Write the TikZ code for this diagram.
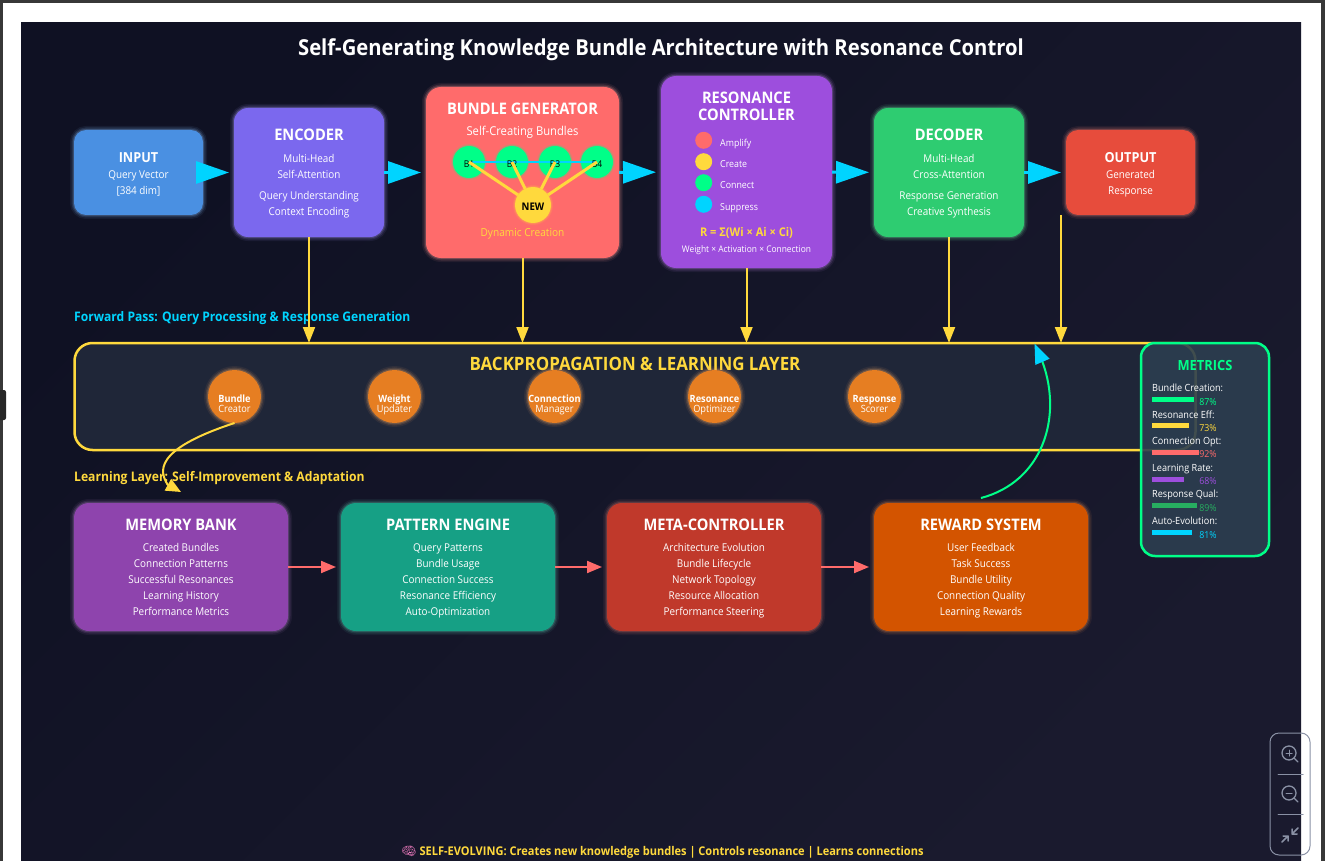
\documentclass[tikz,border=0pt]{standalone}
\usepackage{fontspec}
\setmainfont[FakeStretch=0.92]{Open Sans}
\newfontfamily\emojifont{Noto Emoji}
\usetikzlibrary{arrows.meta,shapes.geometric,calc}
\definecolor{cyanx}{HTML}{00D4FF}
\definecolor{yel}{HTML}{FFD93D}
\definecolor{grn}{HTML}{00FF88}
\definecolor{red1}{HTML}{FF6B6B}
\definecolor{pur}{HTML}{9D4EDD}
\definecolor{ora}{HTML}{E67E22}
\definecolor{ctl}{HTML}{8A91A5}
\definecolor{cinput}{HTML}{4A90E2}
\definecolor{cenc}{HTML}{7B68EE}
\definecolor{cdec}{HTML}{2ECC71}
\definecolor{cout}{HTML}{E74C3C}
\definecolor{cmem}{HTML}{8E44AD}
\definecolor{cpat}{HTML}{16A085}
\definecolor{cmeta}{HTML}{C0392B}
\definecolor{crew}{HTML}{D35400}
\definecolor{clayer}{HTML}{1F2638}
\definecolor{cmetr}{HTML}{2C3E50}
\definecolor{qgrn}{HTML}{27AE60}
\definecolor{bgA}{HTML}{0F1123}
\definecolor{bgB}{HTML}{1A1A2E}
\definecolor{brainc}{HTML}{F07CC0}
\newcommand{\fs}[1]{\fontsize{#1}{#1}\selectfont}
\tikzset{
  glow/.style={preaction={draw=#1!70!white,line width=8pt,opacity=.08},preaction={draw=#1!70!white,line width=5pt,opacity=.14},preaction={draw=#1!70!white,line width=2.4pt,opacity=.24}},
  softglow/.style={preaction={draw=#1,line width=4pt,opacity=.12},preaction={draw=#1,line width=2pt,opacity=.2}},
  card/.style n args={4}{draw=none,fill=#1,glow=#1,rounded corners=#2,minimum width=#3,minimum height=#4,inner sep=0pt,outer sep=0pt,rectangle},
  ttl/.style={text=white,font=\bfseries\fs{15.9},inner sep=0pt,anchor=base,yshift=-6.3pt},
  ttlsm/.style={text=white,font=\bfseries\fs{13.8},inner sep=0pt,anchor=base,yshift=-5.5pt},
  txt/.style={text=white,font=\fs{10.75},inner sep=0pt,anchor=base,yshift=-4.6pt},
  flow/.style={draw=cyanx,line width=3pt,-{Triangle[length=33pt,width=22pt]},shorten >=5pt},
  down/.style={draw=yel,line width=2pt,-{Triangle[length=16pt,width=12pt]}},
  nextstep/.style={draw=red1,line width=2pt,-{Triangle[length=15pt,width=12pt]},shorten >=5pt},
  bub/.style={circle,fill=grn,softglow=grn,minimum size=32pt,inner sep=0pt,outer sep=0pt},
  bubt/.style={text=black,font=\fs{9.3},inner sep=0pt,anchor=base,yshift=-3.4pt},
  lgd/.style={circle,fill=#1,minimum size=17pt,inner sep=0pt},
  lgdt/.style={text=white,font=\fs{9.6},inner sep=0pt,anchor=base west,yshift=-4pt},
  learn/.style={circle,fill=ora,glow=ora,minimum size=53pt,inner sep=0pt,outer sep=0pt},
  lnb/.style={text=white,font=\bfseries\fs{10},inner sep=0pt,anchor=base,yshift=-3.5pt},
  lns/.style={text=white,font=\fs{10},inner sep=0pt,anchor=base,yshift=-3.5pt},
  mlab/.style={text=white,font=\fs{9.9},inner sep=0pt,anchor=base west,yshift=-3.7pt},
  mpct/.style={text=#1,font=\fs{9.6},inner sep=0pt},
  ctlline/.style={draw=ctl,line width=1pt,line cap=round,line join=round},
}
\begin{document}
\begin{tikzpicture}[x=1pt,y=-1pt]
\useasboundingbox (0,0) rectangle (1325,861);
% browser frame
\fill[white] (0,0) rectangle (1325,861);
\fill[black!78] (0,0) rectangle (1325,3);
\fill[black!78] (0,0) rectangle (3,861);
\fill[black!78] (1321,0) rectangle (1325,861);
\fill[black!85,rounded corners=2pt] (-4,390) rectangle (6,420);
\shade[top color=bgA,bottom color=bgB,shading angle=45] (21,23) rectangle (1301,861);

\node[text=white,font=\bfseries\fs{22},inner sep=0pt,anchor=base] (title) at (661,55.5) {Self-Generating Knowledge Bundle Architecture with Resonance Control};

% top row
\node[card={cinput}{12pt}{129pt}{85pt}] (input) at (138.5,172.5) {};
\node[card={cenc}{14pt}{150pt}{129pt}] (enc) at (309,172.5) {};
\node[card={red1}{15pt}{193pt}{171pt}] (gen) at (522.5,172.5) {};
\node[card={pur}{15pt}{171pt}{192pt}] (res) at (746.5,172) {};
\node[card={cdec}{14pt}{150pt}{129pt}] (dec) at (949,172.5) {};
\node[card={cout}{12pt}{129pt}{85pt}] (out) at (1130.5,172.5) {};

\node[ttlsm] (t1) at (138.5,157) {INPUT};
\node[txt] (t2) at (138.5,174) {Query Vector};
\node[txt] (t3) at (138.5,190) {[384 dim]};

\node[ttl] (t4) at (309,134) {ENCODER};
\node[txt] (t5) at (309,158) {Multi-Head};
\node[txt] (t6) at (309,174) {Self-Attention};
\node[txt] (t7) at (309,195) {Query Understanding};
\node[txt] (t8) at (309,211) {Context Encoding};

\node[ttl] (t9) at (522.5,108) {BUNDLE GENERATOR};
\node[text=white,font=\fs{12.2},inner sep=0pt,anchor=base,yshift=-4.6pt] (t10) at (522.5,131) {Self-Creating Bundles};
\node[text=yel,font=\fs{11},inner sep=0pt,anchor=base,yshift=-4.4pt] (t11) at (522.5,232) {Dynamic Creation};
\node[bub] (b1) at (469,162) {};
\node[bub] (b2) at (512,162) {};
\node[bub] (b3) at (555,162) {};
\node[bub] (b4) at (597,162) {};
\node[circle,fill=yel,softglow=yel,minimum size=36pt,inner sep=0pt,outer sep=0pt] (new) at (533,205) {};
\node[text=black,font=\bfseries\fs{10.5},inner sep=0pt] (newt) at (533,207) {NEW};
\draw[cyanx,line width=1.6pt] (b1.center) -- (b4.center);
\node[bubt] (b1t) at (469,164) {B1};
\node[bubt] (b2t) at (512,164) {B2};
\node[bubt] (b3t) at (555,164) {B3};
\node[bubt] (b4t) at (597,164) {B4};
\foreach \b in {b1,b2,b3,b4} \draw[yel,line width=3pt] (\b.center) -- (new);

\node[ttl] (t12) at (746.5,97) {RESONANCE};
\node[ttl] (t13) at (746.5,114) {CONTROLLER};
\node[lgd=red1] (l1) at (703.7,140.3) {};
\node[lgd=yel] (l2) at (703.7,161.7) {};
\node[lgd=grn] (l3) at (703.7,182.7) {};
\node[lgd=cyanx] (l4) at (703.7,204.3) {};
\node[lgdt] (l1t) at (720,142.5) {Amplify};
\node[lgdt] (l2t) at (720,163.5) {Create};
\node[lgdt] (l3t) at (720,184.5) {Connect};
\node[lgdt] (l4t) at (720,206.5) {Suppress};
\node[text=yel,font=\bfseries\fs{12},inner sep=0pt,anchor=base,yshift=-4.2pt] (f1) at (746.5,232) {R = Σ(Wi × Ai × Ci)};
\node[text=white,font=\fs{9.15},inner sep=0pt,anchor=base,yshift=-3.3pt] (f2) at (746.5,249) {Weight × Activation × Connection};

\node[ttl] (t14) at (949,134) {DECODER};
\node[txt] (t15) at (949,158) {Multi-Head};
\node[txt] (t16) at (949,174) {Cross-Attention};
\node[txt] (t17) at (949,195) {Response Generation};
\node[txt] (t18) at (949,211) {Creative Synthesis};

\node[ttlsm] (t19) at (1130.5,157) {OUTPUT};
\node[txt] (t20) at (1130.5,174) {Generated};
\node[txt] (t21) at (1130.5,190) {Response};

\draw[flow] (input) -- (enc);
\draw[flow] (enc) -- (gen);
\draw[flow] (gen) -- (res);
\draw[flow] (res) -- (dec);
\draw[flow] (dec) -- (out);

% labels
\node[text=cyanx,font=\bfseries\fs{13.15},inner sep=0pt,anchor=base west] (fp) at (74,321.7) {Forward Pass: Query Processing \& Response Generation};

% learning layer
\node[rectangle,draw=yel,fill=clayer,line width=2.5pt,rounded corners=18pt,minimum width=1121pt,minimum height=107pt,inner sep=0pt,outer sep=0pt] (layer) at (635,396.5) {};
\node[text=yel,font=\bfseries\fs{18.4},inner sep=0pt,anchor=base] (lt) at (635,370.5) {BACKPROPAGATION \& LEARNING LAYER};

\coordinate (outdrop) at (1061,215);
\draw[down] (enc.south) -- (enc.south |- layer.north);
\draw[down] (gen.south) -- (gen.south |- layer.north);
\draw[down] (res.south) -- (res.south |- layer.north);
\draw[down] (dec.south) -- (dec.south |- layer.north);
\draw[down] (outdrop) -- (outdrop |- layer.north);

\node[learn] (c1) at (234.5,396.5) {};
\node[learn] (c2) at (394.5,396.5) {};
\node[learn] (c3) at (554.5,396.5) {};
\node[learn] (c4) at (714.5,396.5) {};
\node[learn] (c5) at (874.5,396.5) {};
\foreach \x/\a/\b in {234.5/Bundle/Creator,394.5/Weight/Updater,554.5/Connection/Manager,714.5/Resonance/Optimizer,874.5/Response/Scorer}{
  \node[lnb] at (\x,398.5) {\a};
  \node[lns] at (\x,408.5) {\b};
}

\node[text=yel,font=\bfseries\fs{13.2},inner sep=0pt,anchor=base west] (ll) at (74,481.7) {Learning Layer: Self-Improvement \& Adaptation};

% bottom row
\node[card={cmem}{15pt}{214pt}{128pt}] (mem) at (181,567) {};
\node[card={cpat}{15pt}{214pt}{128pt}] (pat) at (448,567) {};
\node[card={cmeta}{15pt}{214pt}{128pt}] (meta) at (714,567) {};
\node[card={crew}{15pt}{214pt}{128pt}] (rew) at (981,567) {};
\foreach \x/\h/\a/\b/\c/\d/\e in {
  181/MEMORY BANK/Created Bundles/Connection Patterns/Successful Resonances/Learning History/Performance Metrics,
  448/PATTERN ENGINE/Query Patterns/Bundle Usage/Connection Success/Resonance Efficiency/Auto-Optimization,
  714/META-CONTROLLER/Architecture Evolution/Bundle Lifecycle/Network Topology/Resource Allocation/Performance Steering,
  981/REWARD SYSTEM/User Feedback/Task Success/Bundle Utility/Connection Quality/Learning Rewards}{
  \node[ttl] at (\x,524) {\h};
  \node[txt] at (\x,547) {\a};
  \node[txt] at (\x,563) {\b};
  \node[txt] at (\x,579) {\c};
  \node[txt] at (\x,595) {\d};
  \node[txt] at (\x,611) {\e};
}
\draw[nextstep] (mem) -- (pat);
\draw[nextstep] (pat) -- (meta);
\draw[nextstep] (meta) -- (rew);

% feedback curves
\coordinate (memin) at (181,492);
\coordinate (membase) at (167.5,484.5);
\coordinate (rewout) at (981,498);
\coordinate (layerin) at (1034.5,343.5);
\coordinate (layerbase) at (1042.5,362);
\draw[yel,line width=2pt,line join=round,-{Triangle[length=15pt,width=13pt]}] (c1.south) .. controls (152,450) and (160,472) .. (membase) -- (memin);
\draw[grn,line width=2pt,line join=round,-{Triangle[length=20pt,width=15pt,color=cyanx]}] (rewout) .. controls (1042,482) and (1063,418) .. (layerbase) -- (layerin);

% metrics
\node[rectangle,draw=grn,fill=cmetr,fill opacity=.9,line width=2.5pt,rounded corners=14pt,minimum width=128pt,minimum height=213pt,inner sep=0pt,outer sep=0pt] (metrics) at (1205,449.5) {};
\node[text=grn,font=\bfseries\fs{14},inner sep=0pt] (mt) at (1205,365) {METRICS};
\foreach \lab/\ly/\by/\bx/\col/\pc/\py in {
  Bundle Creation:/388/397/1194/grn/87\%/402,
  Resonance Eff:/415/423/1189/yel/73\%/428,
  Connection Opt:/441/450/1199/red1/92\%/454,
  Learning Rate:/468/477/1184/pur/68\%/481,
  Response Qual:/494/503/1197/qgrn/89\%/508,
  Auto-Evolution:/521/530/1192/cyanx/81\%/535}{
  \node[mlab] at (1152,\ly) {\lab};
  \fill[\col] (1152,\by) rectangle (\bx,\by+5);
  \node[mpct=\col] at (1208,\py) {\pc};
}

% footer
\node[text=yel,font=\bfseries\fs{12},inner sep=0pt,anchor=base] (foot) at (662.5,855) {{\emojifont\color{brainc}\symbol{"1F9E0}} SELF-EVOLVING: Creates new knowledge bundles | Controls resonance | Learns connections};

% zoom controls
\draw[ctl,line width=1pt,rounded corners=9pt] (1270,733) rectangle (1310,855);
\draw[ctlline] (1278,774.5) -- (1303,774.5);
\draw[ctlline] (1278,814.5) -- (1303,814.5);
\draw[ctlline,line width=1.3pt] (1289,753) circle (7);
\draw[ctlline,line width=1.3pt] (1294,758) -- (1298,762);
\draw[ctlline] (1286,753) -- (1292,753) (1289,750) -- (1289,756);
\draw[ctlline,line width=1.3pt] (1289,793) circle (7);
\draw[ctlline,line width=1.3pt] (1294,798) -- (1298,802);
\draw[ctlline] (1286,793) -- (1292,793);
\draw[ctlline,line width=1.5pt] (1282,842) -- (1288,836) (1283,836) -- (1288,836) -- (1288,841);
\draw[ctlline,line width=1.5pt] (1298,828) -- (1292,834) (1292,829) -- (1292,834) -- (1297,834);
\end{tikzpicture}
\end{document}
